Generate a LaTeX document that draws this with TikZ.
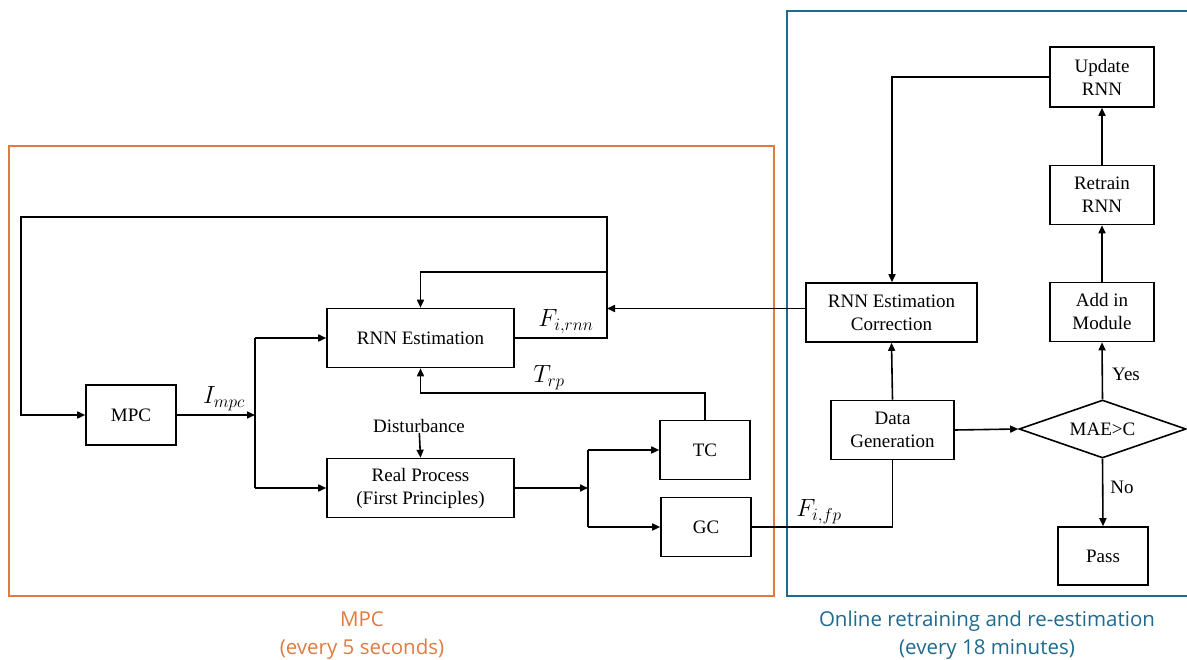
\documentclass[tikz,border=0pt]{standalone}
\usepackage{fontspec}
\setmainfont{Liberation Serif}
\newfontfamily\boxfont{Liberation Serif}
\newfontfamily\captionfont{Open Sans}
\usetikzlibrary{arrows.meta,shapes.geometric,calc}
\definecolor{mpcorange}{HTML}{E07A40}
\definecolor{retrainblue}{HTML}{1F6A8D}
\begin{document}
\begin{tikzpicture}[x=1pt,y=-1pt,
  box/.style={draw, line width=1.6pt, inner sep=0pt, align=center,
    font=\boxfont\fontsize{19}{23}\selectfont},
  ln/.style={line width=1.6pt},
  arr/.style={ln, -{Triangle[length=8pt,width=7pt]}},
  lbl/.style={inner sep=0pt, font=\boxfont\fontsize{19}{23}\selectfont},
  mathlbl/.style={inner sep=0pt, font=\fontsize{24}{28}\selectfont},
  caption/.style={align=center, inner sep=0pt, font=\captionfont\fontsize{20.5}{28}\selectfont}]
\useasboundingbox (0,0) rectangle (1187,660);

% group frames
\draw[mpcorange, line width=1.8pt] (9,146) rectangle (774,596);
\draw[retrainblue, line width=1.8pt] (787,11) rectangle (1200,596);
\node[caption, text=mpcorange] (capmpc) at (362,636) {MPC\\(every 5 seconds)};
\node[caption, text=retrainblue] (capret) at (987,635) {Online retraining and re-estimation\\(every 18 minutes)};

% MPC loop blocks
\node[box, minimum width=90pt, minimum height=60pt] (mpc) at (131,415) {MPC};
\node[box, minimum width=187pt, minimum height=59pt] (rnn) at (420.5,338) {RNN Estimation};
\node[box, minimum width=187pt, minimum height=59pt] (proc) at (420.5,488) {Real Process\\(First Principles)};
\node[box, minimum width=90pt, minimum height=59pt] (tc) at (705,450) {TC};
\node[box, minimum width=90pt, minimum height=59pt] (gc) at (706,527) {GC};
\node[lbl] (dist) at (419,426) {Disturbance};

% retraining blocks
\node[box, minimum width=171pt, minimum height=59pt] (corr) at (891.5,312.5) {RNN Estimation\\Correction};
\node[box, minimum width=123pt, minimum height=59pt] (gen) at (892.5,430) {Data\\Generation};
\node[box, shape=diamond, shape aspect=2.88, minimum width=167pt, minimum height=58pt] (mae) at (1102.5,429) {MAE>C};
\node[box, minimum width=90pt, minimum height=58pt] (pass) at (1103,556) {Pass};
\node[box, minimum width=104pt, minimum height=59pt] (add) at (1102,312) {Add in\\Module};
\node[box, minimum width=104pt, minimum height=59pt] (retrain) at (1102,195) {Retrain\\RNN};
\node[box, minimum width=104pt, minimum height=60pt] (update) at (1102,77) {Update\\RNN};

% routing points
\coordinate (fb) at (607,217);
\coordinate (fbl) at (21,217);
\coordinate (br) at (607,272);
\coordinate (j1) at (255,415);
\coordinate (j2) at (588,488);
\coordinate (trp) at (705,393);
\coordinate (upd) at (892,77);

% feedback to MPC and RNN estimation
\draw[arr] (rnn.east) -- (rnn.east -| fb) -- (fb) -- (fbl) -- (fbl |- mpc) -- (mpc.west);
\draw[arr] (br) -| (rnn.north);
\draw[arr] ([yshift=4pt]corr.west) -- ([yshift=4pt]corr.west -| fb);
\node[mathlbl, anchor=south] (frnn) at (566,334) {$F_{i,rnn}$};

% MPC output split
\draw[arr] (mpc.east) -- (j1);
\node[mathlbl, anchor=south] (impc) at (224,411) {$I_{mpc}$};
\draw[ln] (j1 |- rnn) -- (j1 |- proc);
\draw[arr] (j1 |- rnn) -- (rnn.west);
\draw[arr] (j1 |- proc) -- (proc.west);
\draw[arr] (dist) -- (proc.north);

% process outputs
\draw[arr] (proc.east) -- (j2);
\draw[ln] (j2 |- tc) -- (j2 |- gc);
\draw[arr] (j2 |- tc) -- (tc.west);
\draw[arr] (j2 |- gc) -- (gc.west);
\draw[arr] (tc.north) -- (trp) -| (rnn.south);
\node[mathlbl, anchor=south] (trplbl) at (549,390) {$T_{rp}$};
\draw[ln] (gc.east) -| (gen.south);
\node[mathlbl, anchor=south] (ffp) at (819,524) {$F_{i,fp}$};

% retraining flow
\draw[arr] (gen.north) -- (corr.south);
\draw[arr] (gen.east) -- (mae.west);
\draw[arr] (mae.north) -- (add.south);
\draw[arr] (mae.south) -- (pass.north);
\node[lbl] (yes) at (1126,374) {Yes};
\node[lbl] (no) at (1122,487) {No};
\draw[arr] (add.north) -- (retrain.south);
\draw[arr] (retrain.north) -- (update.south);
\draw[arr] (update.west) -- (upd) -- (upd |- corr.north);
\end{tikzpicture}
\end{document}
